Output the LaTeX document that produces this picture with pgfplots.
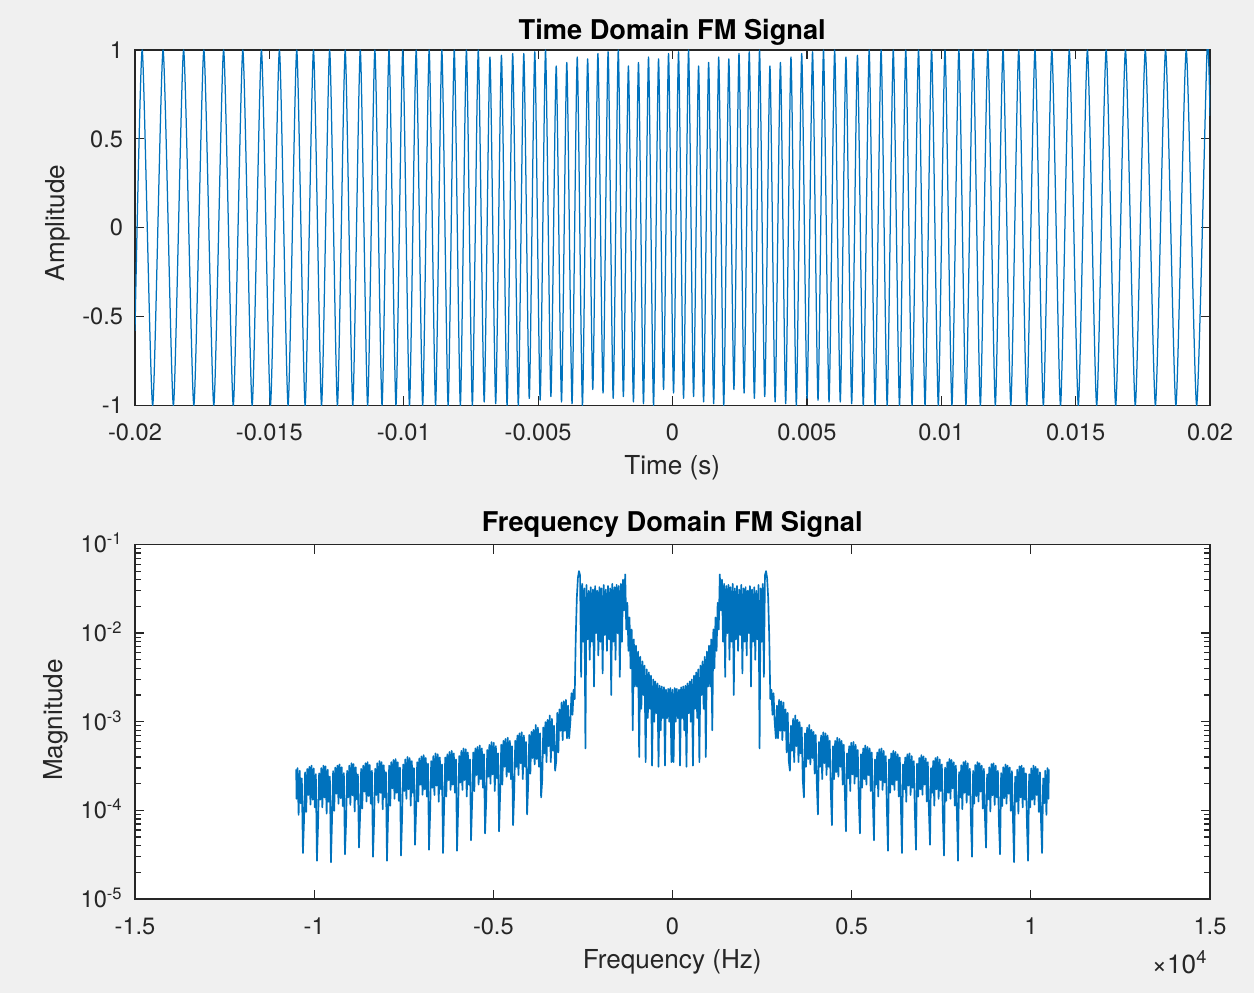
\documentclass[border=0pt]{standalone}
\usepackage{pgfplots}
\pgfplotsset{compat=1.18}
\usepackage{fontspec}
\setmainfont{TeX Gyre Heros}
\definecolor{mblue}{rgb}{0,0.447,0.741}
\definecolor{axgray}{RGB}{38,38,38}
\definecolor{figbg}{RGB}{240,240,240}
\newcommand{\tickfont}{\fontsize{8.5}{10}\selectfont}
\newcommand{\labfont}{\fontsize{9.4}{11}\selectfont}
\newcommand{\titfont}{\fontsize{9.8}{12}\selectfont\bfseries}
\pgfplotsset{
  matlab/.style={
    scale only axis, width=387pt, anchor=south west,
    axis background/.style={fill=white},
    axis line style={draw=axgray, line width=0.45pt},
    tick style={draw=axgray, line width=0.45pt},
    tick align=inside,
    major tick length=3.3pt, minor tick length=2.2pt,
    ticklabel style={font=\tickfont, text=axgray},
    xticklabel style={anchor=base, yshift=-12.6pt},
    yticklabel style={xshift=-0.8pt},
    scaled ticks=false,
    clip=true,
  }
}
\begin{document}
\begin{tikzpicture}
\useasboundingbox (0,0) rectangle (451.44pt,357.48pt);
\fill[figbg] (0,0) rectangle (451.44pt,357.48pt);

% ---------- time domain ----------
\begin{axis}[matlab, at={(48.6pt,211.5pt)}, height=127.98pt,
  xmin=-0.02, xmax=0.02, ymin=-1, ymax=1,
  xtick={-0.02,-0.015,-0.01,-0.005,0,0.005,0.01,0.015,0.02},
  xticklabels={-0.02,-0.015,-0.01,-0.005,0,0.005,0.01,0.015,0.02},
  ytick={-1,-0.5,0,0.5,1}, yticklabels={-1,-0.5,0,0.5,1},
]
\addplot[mblue, line width=0.45pt, smooth, tension=0.36, line join=round] coordinates {
(-0.02,-0.58)
(-0.019730,1) (-0.019343,-1) (-0.018956,1) (-0.018572,-1) (-0.018191,1) (-0.017811,-1)
(-0.017438,1) (-0.017068,-1) (-0.016703,1) (-0.016344,-1) (-0.015988,1) (-0.015641,-1)
(-0.015296,1) (-0.014961,-1) (-0.014627,1) (-0.014304,-1) (-0.013982,1) (-0.013670,-1)
(-0.013359,1) (-0.013059,-1) (-0.012758,1) (-0.012468,-1) (-0.012179,1) (-0.011897,-1)
(-0.011618,1) (-0.011344,-1) (-0.011075,1) (-0.010808,-1) (-0.010549,1) (-0.010290,-1)
(-0.010037,1) (-0.009787,-1) (-0.009537,1) (-0.009296,-1) (-0.009055,1) (-0.008816,-1)
(-0.008583,1) (-0.008349,-1) (-0.008121,1) (-0.007894,-1) (-0.007668,1) (-0.007447,-1)
(-0.007227,1) (-0.007007,-0.98) (-0.006793,0.96) (-0.006579,-0.99) (-0.006365,0.97) (-0.006156,-1)
(-0.005947,0.98) (-0.005738,-1) (-0.005534,0.98) (-0.005330,-0.96) (-0.005125,0.99) (-0.004925,-0.97)
(-0.004725,1) (-0.004525,-0.95) (-0.004327,0.91) (-0.004130,-0.98) (-0.003934,0.93) (-0.003738,-0.99)
(-0.003545,0.96) (-0.003351,-1) (-0.003158,0.95) (-0.002967,-0.91) (-0.002776,0.98) (-0.002585,-0.93)
(-0.002396,0.99) (-0.002207,-0.96) (-0.002018,1) (-0.001829,-0.95) (-0.001641,0.91) (-0.001454,-0.98)
(-0.001266,0.93) (-0.001080,-0.99) (-0.000893,0.96) (-0.000706,-1) (-0.000520,0.95) (-0.000334,-0.91)
(-0.000148,0.98) (0.000038,-0.93) (0.000224,0.99) (0.000411,-0.96) (0.000597,1) (0.000783,-0.95)
(0.000970,0.91) (0.001157,-0.98) (0.001344,0.93) (0.001531,-0.99) (0.001719,0.96) (0.001906,-1)
(0.002095,0.95) (0.002285,-0.91) (0.002474,0.98) (0.002664,-0.93) (0.002855,0.99) (0.003046,-0.96)
(0.003238,1) (0.003431,-0.95) (0.003625,0.91) (0.003818,-0.98) (0.004015,0.93) (0.004211,-0.99)
(0.004408,0.96) (0.004607,-1) (0.004807,0.98) (0.005007,-0.96) (0.005210,0.99) (0.005414,-0.97)
(0.005618,1) (0.005824,-0.98) (0.006033,1) (0.006242,-0.98) (0.006453,0.96) (0.006667,-0.99)
(0.006881,0.97) (0.007098,-1) (0.007317,1) (0.007537,-1) (0.007761,1) (0.007987,-1)
(0.008214,1) (0.008446,-1) (0.008679,1) (0.008913,-1) (0.009154,1) (0.009396,-1)
(0.009640,1) (0.009890,-1) (0.010139,1) (0.010397,-1) (0.010655,1) (0.010918,-1)
(0.011186,1) (0.011455,-1) (0.011733,1) (0.012012,-1) (0.012298,1) (0.012587,-1)
(0.012882,1) (0.013182,-1) (0.013487,1) (0.013799,-1) (0.014114,1) (0.014437,-1)
(0.014764,1) (0.015099,-1) (0.015438,1) (0.015783,-1) (0.016135,1) (0.016490,-1)
(0.016854,1) (0.017219,-1) (0.017592,1) (0.017968,-1) (0.018347,1) (0.018730,-1)
(0.019115,1) (0.019502,-1) (0.019890,1)
(0.02,0.63)
};
\end{axis}

% ---------- frequency domain ----------
\begin{axis}[matlab, at={(48.6pt,33.84pt)}, height=127.62pt,
  xmin=-15000, xmax=15000, ymode=log, ymin=1e-5, ymax=1e-1,
  xtick={-15000,-10000,-5000,0,5000,10000,15000},
  xticklabels={-1.5,-1,-0.5,0,0.5,1,1.5},
  ytick={1e-5,1e-4,1e-3,1e-2,1e-1},
  yticklabels={10\textsuperscript{-5},10\textsuperscript{-4},10\textsuperscript{-3},10\textsuperscript{-2},10\textsuperscript{-1}},
  minor ytick={2e-5,3e-5,4e-5,5e-5,6e-5,7e-5,8e-5,9e-5,
               2e-4,3e-4,4e-4,5e-4,6e-4,7e-4,8e-4,9e-4,
               2e-3,3e-3,4e-3,5e-3,6e-3,7e-3,8e-3,9e-3,
               2e-2,3e-2,4e-2,5e-2,6e-2,7e-2,8e-2,9e-2},
  yticklabel style={anchor=base east, yshift=-3pt},
]
\addplot[mblue, line width=0.6pt, line join=round] coordinates {
(-10500,2.9e-4) (-10494,1.35e-4) (-10464,3.0e-4) (-10434,8.9e-5) (-10404,2.8e-4) (-10374,1.2e-4) (-10344,2.3e-4) (-10314,3.3e-5)
(-10283,7.7e-5) (-10253,2.69e-4) (-10223,9.6e-5) (-10193,2.94e-4) (-10163,1.49e-4) (-10133,3.1e-4) (-10103,1.16e-4) (-10073,3.2e-4) (-10043,1.32e-4) (-10013,2.98e-4) (-9983,1.08e-4) (-9953,2.56e-4) (-9923,2.7e-5)
(-9892,6.8e-5) (-9862,2.62e-4) (-9832,1.32e-4) (-9802,3.0e-4) (-9772,1.08e-4) (-9742,3.2e-4) (-9712,1.4e-4) (-9682,3.14e-4) (-9652,9.2e-5) (-9622,2.88e-4) (-9592,1.25e-4) (-9562,2.4e-4) (-9532,2.6e-5)
(-9501,8.0e-5) (-9471,2.77e-4) (-9441,9.9e-5) (-9411,3.04e-4) (-9381,1.54e-4) (-9351,3.2e-4) (-9321,1.19e-4) (-9291,3.3e-4) (-9261,1.37e-4) (-9231,3.07e-4) (-9201,1.12e-4) (-9171,2.64e-4) (-9141,3.2e-5)
(-9110,7.1e-5) (-9080,2.8e-4) (-9050,1.4e-4) (-9020,3.2e-4) (-8990,1.15e-4) (-8960,3.4e-4) (-8930,1.48e-4) (-8900,3.33e-4) (-8870,9.7e-5) (-8840,3.06e-4) (-8810,1.33e-4) (-8780,2.55e-4) (-8750,3.8e-5)
(-8719,8.4e-5) (-8689,2.94e-4) (-8659,1.05e-4) (-8629,3.2e-4) (-8599,1.63e-4) (-8569,3.4e-4) (-8539,1.26e-4) (-8509,3.5e-4) (-8479,1.45e-4) (-8449,3.26e-4) (-8419,1.19e-4) (-8389,2.8e-4) (-8359,3.0e-5)
(-8328,7.5e-5) (-8298,2.95e-4) (-8268,1.49e-4) (-8238,3.4e-4) (-8208,1.22e-4) (-8178,3.6e-4) (-8148,1.58e-4) (-8118,3.5e-4) (-8088,1.03e-4) (-8058,3.24e-4) (-8028,1.4e-4) (-7998,2.7e-4) (-7968,2.7e-5)
(-7937,9.0e-5) (-7907,3.2e-4) (-7877,1.13e-4) (-7847,3.5e-4) (-7817,1.77e-4) (-7787,3.7e-4) (-7757,1.35e-4) (-7727,3.8e-4) (-7697,1.58e-4) (-7667,3.5e-4) (-7637,1.28e-4) (-7607,3.04e-4) (-7577,3.1e-5)
(-7546,8.3e-5) (-7516,3.3e-4) (-7486,1.65e-4) (-7456,3.76e-4) (-7426,1.35e-4) (-7396,4.0e-4) (-7366,1.73e-4) (-7336,3.9e-4) (-7306,1.13e-4) (-7276,3.6e-4) (-7246,1.58e-4) (-7216,3.0e-4) (-7186,4.1e-5)
(-7155,1.0e-4) (-7125,3.5e-4) (-7095,1.26e-4) (-7065,3.86e-4) (-7035,1.95e-4) (-7005,4.07e-4) (-6975,1.5e-4) (-6945,4.2e-4) (-6915,1.73e-4) (-6885,3.9e-4) (-6855,1.43e-4) (-6825,3.36e-4) (-6795,3.6e-5)
(-6764,9.2e-5) (-6734,3.6e-4) (-6704,1.8e-4) (-6674,4.1e-4) (-6644,1.49e-4) (-6614,4.4e-4) (-6584,1.9e-4) (-6554,4.3e-4) (-6524,1.25e-4) (-6494,3.96e-4) (-6464,1.73e-4) (-6434,3.3e-4) (-6404,3.3e-5)
(-6373,1.13e-4) (-6343,3.95e-4) (-6313,1.43e-4) (-6283,4.3e-4) (-6253,2.2e-4) (-6223,4.56e-4) (-6193,1.7e-4) (-6163,4.7e-4) (-6133,1.95e-4) (-6103,4.4e-4) (-6073,1.58e-4) (-6043,3.76e-4) (-6013,3.5e-5)
(-5982,1.05e-4) (-5952,4.1e-4) (-5922,2.06e-4) (-5892,4.7e-4) (-5862,1.7e-4) (-5832,5.0e-4) (-5802,2.2e-4) (-5772,4.9e-4) (-5742,1.43e-4) (-5712,4.5e-4) (-5682,1.95e-4) (-5652,3.75e-4) (-5622,4.6e-5)
(-5591,1.28e-4) (-5561,4.5e-4) (-5531,1.65e-4) (-5501,5.0e-4) (-5471,2.5e-4) (-5441,5.2e-4) (-5411,1.95e-4) (-5381,5.4e-4) (-5351,2.25e-4) (-5321,5.0e-4) (-5291,1.8e-4) (-5261,4.3e-4) (-5231,5.5e-5)
(-5200,1.24e-4) (-5170,4.8e-4) (-5140,2.4e-4) (-5110,5.5e-4) (-5080,2.0e-4) (-5050,5.9e-4) (-5020,2.55e-4) (-4990,5.8e-4) (-4960,1.65e-4) (-4930,5.3e-4) (-4900,2.3e-4) (-4870,4.4e-4) (-4840,5.8e-5)
(-4809,1.6e-4) (-4779,5.5e-4) (-4749,1.95e-4) (-4719,6.1e-4) (-4689,3.1e-4) (-4659,6.4e-4) (-4629,2.4e-4) (-4599,6.6e-4) (-4569,2.7e-4) (-4539,6.1e-4) (-4509,2.25e-4) (-4479,5.3e-4) (-4449,6.8e-5)
(-4418,1.6e-4) (-4388,6.1e-4) (-4358,3.1e-4) (-4328,7.0e-4) (-4298,2.5e-4) (-4268,7.4e-4) (-4238,3.4e-4) (-4208,7.6e-4) (-4178,2.25e-4) (-4148,7.0e-4) (-4118,3.1e-4) (-4088,5.9e-4) (-4058,9.0e-5)
(-4027,2.0e-4) (-3997,7.1e-4) (-3967,2.6e-4) (-3937,7.7e-4) (-3907,3.9e-4) (-3877,8.1e-4) (-3847,3.3e-4) (-3817,9.2e-4) (-3787,3.8e-4) (-3757,8.6e-4) (-3727,3.1e-4) (-3697,7.4e-4) (-3667,1.4e-4)
(-3636,2.2e-4) (-3606,8.6e-4) (-3576,4.4e-4) (-3546,9.9e-4) (-3516,3.5e-4) (-3486,1.05e-3) (-3456,5.3e-4) (-3426,1.18e-3) (-3396,3.5e-4) (-3366,1.08e-3) (-3336,4.7e-4) (-3306,9.0e-4) (-3276,2.8e-4)
(-3245,3.6e-4) (-3215,1.26e-3) (-3185,4.5e-4) (-3155,1.38e-3) (-3125,7.9e-4) (-3095,1.65e-3) (-3065,6.2e-4) (-3035,1.7e-3) (-3005,7.9e-4) (-2975,1.77e-3) (-2945,6.5e-4) (-2915,1.52e-3) (-2885,6.5e-4)
(-2850,1.0e-3) (-2820,2.1e-3) (-2790,1.2e-3) (-2760,2.3e-3) (-2730,1.8e-3) (-2700,9.0e-3) (-2670,2.5e-2) (-2640,4.2e-2) (-2610,5.0e-2) (-2580,4.5e-2)
(-2550,3.2e-3) (-2520,3.6e-2) (-2490,8.0e-3) (-2460,3.2e-2) (-2430,5.0e-4) (-2400,3.5e-2) (-2370,8.5e-3) (-2340,3.0e-2) (-2310,5.0e-3) (-2280,3.3e-2)
(-2250,8.0e-3) (-2220,3.1e-2) (-2190,2.5e-3) (-2160,3.4e-2) (-2130,1.0e-2) (-2100,3.0e-2) (-2070,5.6e-3) (-2040,3.3e-2) (-2010,8.0e-3) (-1980,3.2e-2)
(-1950,3.5e-3) (-1920,3.5e-2) (-1890,9.5e-3) (-1860,3.1e-2) (-1830,6.3e-3) (-1800,3.4e-2) (-1770,8.5e-3) (-1740,3.2e-2) (-1710,2.0e-3) (-1680,3.6e-2)
(-1650,8.0e-3) (-1620,3.3e-2) (-1590,5.0e-3) (-1560,3.5e-2) (-1530,1.0e-2) (-1500,3.4e-2) (-1470,3.2e-3) (-1440,3.6e-2) (-1410,8.0e-3) (-1380,4.0e-2)
(-1350,1.8e-2) (-1320,4.6e-2) (-1290,1.1e-2) (-1260,2.2e-2) (-1230,6.3e-3) (-1200,1.5e-2) (-1170,4.0e-3) (-1140,1.1e-2) (-1110,8.0e-4) (-1080,8.5e-3)
(-1050,2.5e-3) (-1020,7.2e-3) (-990,2.5e-3) (-960,6.2e-3) (-930,4.0e-4) (-900,5.4e-3) (-870,1.4e-3) (-840,4.8e-3) (-810,2.0e-3) (-780,4.3e-3)
(-750,3.5e-4) (-720,3.9e-3) (-690,1.1e-3) (-660,3.6e-3) (-630,1.4e-3) (-600,3.3e-3) (-570,3.2e-4) (-540,3.0e-3) (-510,1.0e-3) (-480,2.85e-3)
(-450,1.25e-3) (-420,2.7e-3) (-390,3.1e-4) (-360,2.55e-3) (-330,8.0e-4) (-300,2.5e-3) (-270,1.1e-3) (-240,2.45e-3) (-210,3.2e-4) (-180,2.3e-3)
(-150,1.1e-3) (-120,2.35e-3) (-90,1.0e-3) (-60,2.4e-3) (-30,3.5e-4)
(0,2.3e-3)
(30,3.5e-4) (60,2.4e-3) (90,1.0e-3) (120,2.35e-3) (150,1.1e-3) (180,2.3e-3) (210,3.2e-4) (240,2.45e-3) (270,1.1e-3) (300,2.5e-3)
(330,8.0e-4) (360,2.55e-3) (390,3.1e-4) (420,2.7e-3) (450,1.25e-3) (480,2.85e-3) (510,1.0e-3) (540,3.0e-3) (570,3.2e-4) (600,3.3e-3)
(630,1.4e-3) (660,3.6e-3) (690,1.1e-3) (720,3.9e-3) (750,3.5e-4) (780,4.3e-3) (810,2.0e-3) (840,4.8e-3) (870,1.4e-3) (900,5.4e-3)
(930,4.0e-4) (960,6.2e-3) (990,2.5e-3) (1020,7.2e-3) (1050,2.5e-3) (1080,8.5e-3) (1110,8.0e-4) (1140,1.1e-2) (1170,4.0e-3) (1200,1.5e-2)
(1230,6.3e-3) (1260,2.2e-2) (1290,1.1e-2) (1320,4.6e-2) (1350,1.8e-2) (1380,4.0e-2) (1410,8.0e-3) (1440,3.6e-2) (1470,3.2e-3) (1500,3.4e-2)
(1530,1.0e-2) (1560,3.5e-2) (1590,5.0e-3) (1620,3.3e-2) (1650,8.0e-3) (1680,3.6e-2) (1710,2.0e-3) (1740,3.2e-2) (1770,8.5e-3) (1800,3.4e-2)
(1830,6.3e-3) (1860,3.1e-2) (1890,9.5e-3) (1920,3.5e-2) (1950,3.5e-3) (1980,3.2e-2) (2010,8.0e-3) (2040,3.3e-2) (2070,5.6e-3) (2100,3.0e-2)
(2130,1.0e-2) (2160,3.4e-2) (2190,2.5e-3) (2220,3.1e-2) (2250,8.0e-3) (2280,3.3e-2) (2310,5.0e-3) (2340,3.0e-2) (2370,8.5e-3) (2400,3.5e-2)
(2430,5.0e-4) (2460,3.2e-2) (2490,8.0e-3) (2520,3.6e-2) (2550,3.2e-3) (2580,4.5e-2) (2610,5.0e-2) (2640,4.2e-2) (2670,2.5e-2) (2700,9.0e-3)
(2730,1.8e-3) (2760,2.3e-3) (2790,1.2e-3) (2820,2.1e-3) (2850,1.0e-3) (2885,6.5e-4)
(2915,1.52e-3) (2945,6.5e-4) (2975,1.77e-3) (3005,7.9e-4) (3035,1.7e-3) (3065,6.2e-4) (3095,1.65e-3) (3125,7.9e-4) (3155,1.38e-3) (3185,4.5e-4) (3215,1.26e-3) (3245,3.6e-4) (3276,2.8e-4)
(3306,9.0e-4) (3336,4.7e-4) (3366,1.08e-3) (3396,3.5e-4) (3426,1.18e-3) (3456,5.3e-4) (3486,1.05e-3) (3516,3.5e-4) (3546,9.9e-4) (3576,4.4e-4) (3606,8.6e-4) (3636,2.2e-4) (3667,1.4e-4)
(3697,7.4e-4) (3727,3.1e-4) (3757,8.6e-4) (3787,3.8e-4) (3817,9.2e-4) (3847,3.3e-4) (3877,8.1e-4) (3907,3.9e-4) (3937,7.7e-4) (3967,2.6e-4) (3997,7.1e-4) (4027,2.0e-4) (4058,9.0e-5)
(4088,5.9e-4) (4118,3.1e-4) (4148,7.0e-4) (4178,2.25e-4) (4208,7.6e-4) (4238,3.4e-4) (4268,7.4e-4) (4298,2.5e-4) (4328,7.0e-4) (4358,3.1e-4) (4388,6.1e-4) (4418,1.6e-4) (4449,6.8e-5)
(4479,5.3e-4) (4509,2.25e-4) (4539,6.1e-4) (4569,2.7e-4) (4599,6.6e-4) (4629,2.4e-4) (4659,6.4e-4) (4689,3.1e-4) (4719,6.1e-4) (4749,1.95e-4) (4779,5.5e-4) (4809,1.6e-4) (4840,5.8e-5)
(4870,4.4e-4) (4900,2.3e-4) (4930,5.3e-4) (4960,1.65e-4) (4990,5.8e-4) (5020,2.55e-4) (5050,5.9e-4) (5080,2.0e-4) (5110,5.5e-4) (5140,2.4e-4) (5170,4.8e-4) (5200,1.24e-4) (5231,5.5e-5)
(5261,4.3e-4) (5291,1.8e-4) (5321,5.0e-4) (5351,2.25e-4) (5381,5.4e-4) (5411,1.95e-4) (5441,5.2e-4) (5471,2.5e-4) (5501,5.0e-4) (5531,1.65e-4) (5561,4.5e-4) (5591,1.28e-4) (5622,4.6e-5)
(5652,3.75e-4) (5682,1.95e-4) (5712,4.5e-4) (5742,1.43e-4) (5772,4.9e-4) (5802,2.2e-4) (5832,5.0e-4) (5862,1.7e-4) (5892,4.7e-4) (5922,2.06e-4) (5952,4.1e-4) (5982,1.05e-4) (6013,3.5e-5)
(6043,3.76e-4) (6073,1.58e-4) (6103,4.4e-4) (6133,1.95e-4) (6163,4.7e-4) (6193,1.7e-4) (6223,4.56e-4) (6253,2.2e-4) (6283,4.3e-4) (6313,1.43e-4) (6343,3.95e-4) (6373,1.13e-4) (6404,3.3e-5)
(6434,3.3e-4) (6464,1.73e-4) (6494,3.96e-4) (6524,1.25e-4) (6554,4.3e-4) (6584,1.9e-4) (6614,4.4e-4) (6644,1.49e-4) (6674,4.1e-4) (6704,1.8e-4) (6734,3.6e-4) (6764,9.2e-5) (6795,3.6e-5)
(6825,3.36e-4) (6855,1.43e-4) (6885,3.9e-4) (6915,1.73e-4) (6945,4.2e-4) (6975,1.5e-4) (7005,4.07e-4) (7035,1.95e-4) (7065,3.86e-4) (7095,1.26e-4) (7125,3.5e-4) (7155,1.0e-4) (7186,4.1e-5)
(7216,3.0e-4) (7246,1.58e-4) (7276,3.6e-4) (7306,1.13e-4) (7336,3.9e-4) (7366,1.73e-4) (7396,4.0e-4) (7426,1.35e-4) (7456,3.76e-4) (7486,1.65e-4) (7516,3.3e-4) (7546,8.3e-5) (7577,3.1e-5)
(7607,3.04e-4) (7637,1.28e-4) (7667,3.5e-4) (7697,1.58e-4) (7727,3.8e-4) (7757,1.35e-4) (7787,3.7e-4) (7817,1.77e-4) (7847,3.5e-4) (7877,1.13e-4) (7907,3.2e-4) (7937,9.0e-5) (7968,2.7e-5)
(7998,2.7e-4) (8028,1.4e-4) (8058,3.24e-4) (8088,1.03e-4) (8118,3.5e-4) (8148,1.58e-4) (8178,3.6e-4) (8208,1.22e-4) (8238,3.4e-4) (8268,1.49e-4) (8298,2.95e-4) (8328,7.5e-5) (8359,3.0e-5)
(8389,2.8e-4) (8419,1.19e-4) (8449,3.26e-4) (8479,1.45e-4) (8509,3.5e-4) (8539,1.26e-4) (8569,3.4e-4) (8599,1.63e-4) (8629,3.2e-4) (8659,1.05e-4) (8689,2.94e-4) (8719,8.4e-5) (8750,3.8e-5)
(8780,2.55e-4) (8810,1.33e-4) (8840,3.06e-4) (8870,9.7e-5) (8900,3.33e-4) (8930,1.48e-4) (8960,3.4e-4) (8990,1.15e-4) (9020,3.2e-4) (9050,1.4e-4) (9080,2.8e-4) (9110,7.1e-5) (9141,3.2e-5)
(9171,2.64e-4) (9201,1.12e-4) (9231,3.07e-4) (9261,1.37e-4) (9291,3.3e-4) (9321,1.19e-4) (9351,3.2e-4) (9381,1.54e-4) (9411,3.04e-4) (9441,9.9e-5) (9471,2.77e-4) (9501,8.0e-5) (9532,2.6e-5)
(9562,2.4e-4) (9592,1.25e-4) (9622,2.88e-4) (9652,9.2e-5) (9682,3.14e-4) (9712,1.4e-4) (9742,3.2e-4) (9772,1.08e-4) (9802,3.0e-4) (9832,1.32e-4) (9862,2.62e-4) (9892,6.8e-5) (9923,2.7e-5)
(9953,2.56e-4) (9983,1.08e-4) (10013,2.98e-4) (10043,1.32e-4) (10073,3.2e-4) (10103,1.16e-4) (10133,3.1e-4) (10163,1.49e-4) (10193,2.94e-4) (10223,9.6e-5) (10253,2.69e-4) (10283,7.7e-5) (10314,3.3e-5)
(10344,2.3e-4) (10374,1.2e-4) (10404,2.8e-4) (10434,8.9e-5) (10464,3.0e-4) (10494,1.35e-4) (10500,2.9e-4)
};
\end{axis}

% titles and axis labels
\node[anchor=base, font=\titfont] at (242pt,343.3pt) {Time Domain FM Signal};
\node[anchor=base, font=\labfont, text=axgray] at (242pt,186.5pt) {Time (s)};
\node[anchor=base, font=\labfont, text=axgray, rotate=90] at (23.4pt,277.2pt) {Amplitude};
\node[anchor=base, font=\titfont] at (242pt,166.1pt) {Frequency Domain FM Signal};
\node[anchor=base, font=\labfont, text=axgray] at (242pt,8.8pt) {Frequency (Hz)};
\node[anchor=base, font=\labfont, text=axgray, rotate=90] at (22.5pt,98.3pt) {Magnitude};
\node[anchor=base east, font=\labfont, text=axgray, inner sep=0pt] at (435pt,6.84pt) {×10\textsuperscript{4}};
\end{tikzpicture}
\end{document}
